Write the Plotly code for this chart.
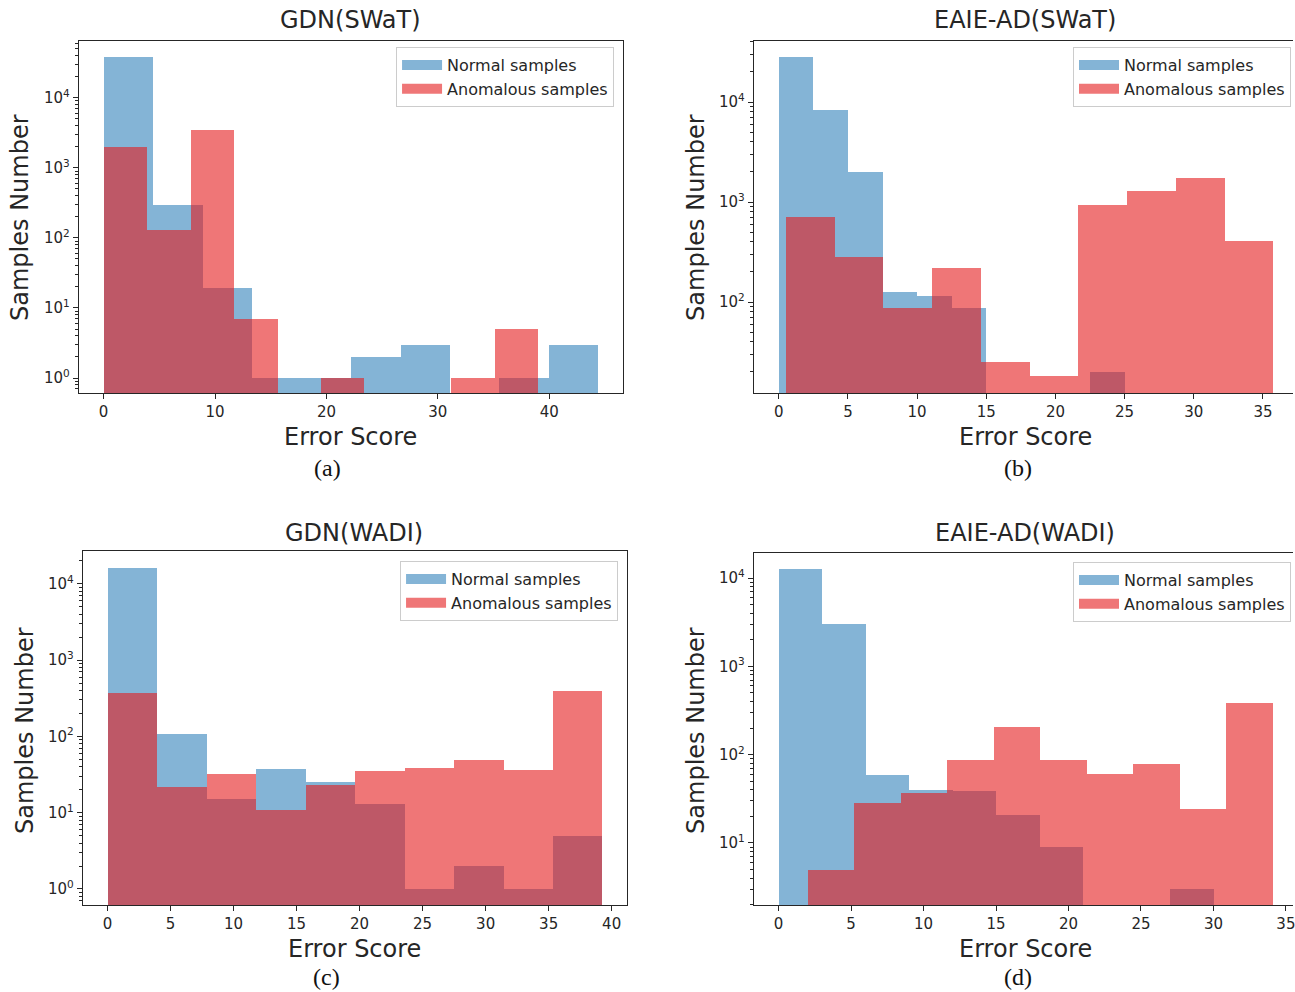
import plotly.graph_objects as go

# ---------------- data ----------------
titles = ["GDN(SWaT)", "EAIE-AD(SWaT)", "GDN(WADI)", "EAIE-AD(WADI)"]
captions = ["(a)", "(b)", "(c)", "(d)"]
series_names = ["Normal samples", "Anomalous samples"]

a_normal_edges = [0, 4.44, 8.88, 13.32, 17.76, 22.2, 26.64, 31.08, 35.52, 39.96, 44.4]
a_normal_counts = [38500, 293, 19, 1, 1, 2, 3, 0, 1, 3]
a_anom_edges = [0, 3.9, 7.8, 11.7, 15.6, 19.5, 23.4, 27.3, 31.2, 35.1, 39.0]
a_anom_counts = [2000, 130, 3500, 7, 0, 1, 0, 0, 1, 5]

b_normal_edges = [0, 2.5, 5, 7.5, 10, 12.5, 15, 17.5, 20, 22.5, 25]
b_normal_counts = [28000, 8400, 2000, 126, 115, 88, 0, 0, 0, 20]
b_anom_edges = [0.5, 4.02, 7.55, 11.07, 14.6, 18.12, 21.64, 25.17, 28.69, 32.22, 35.74]
b_anom_counts = [703, 279, 87, 221, 25, 18, 940, 1277, 1745, 412]

c_normal_edges = [0, 3.93, 7.85, 11.78, 15.7, 19.63, 23.56, 27.48, 31.41, 35.33, 39.26]
c_normal_counts = [16000, 106, 15, 37, 25, 13, 1, 2, 1, 5]
c_anom_edges = [0, 3.93, 7.85, 11.78, 15.7, 19.63, 23.56, 27.48, 31.41, 35.33, 39.26]
c_anom_counts = [370, 22, 32, 11, 23, 35, 39, 49, 36, 396]

d_normal_edges = [0, 3, 6, 9, 12, 15, 18, 21, 24, 27, 30]
d_normal_counts = [12750, 2990, 59, 40, 39, 21, 9, 0, 0, 3]
d_anom_edges = [2.0, 5.21, 8.42, 11.63, 14.84, 18.05, 21.26, 24.47, 27.68, 30.89, 34.1]
d_anom_counts = [5, 28, 37, 86, 205, 87, 61, 79, 24, 389]

x_ticks = [[0, 10, 20, 30, 40],
           [0, 5, 10, 15, 20, 25, 30, 35],
           [0, 5, 10, 15, 20, 25, 30, 35, 40],
           [0, 5, 10, 15, 20, 25, 30, 35]]
y_ticks = [1, 10, 100, 1000, 10000]
y_tick_text = ["10<sup>0</sup>", "10<sup>1</sup>", "10<sup>2</sup>", "10<sup>3</sup>", "10<sup>4</sup>"]

# ---------------- styling / layout ----------------
W, H = 1295, 992
BLUE = "rgba(31,119,180,0.55)"
RED = "rgba(228,26,28,0.6)"
FONT = "DejaVu Sans"
INK = "#262626"

panels = [
    dict(normal=(a_normal_edges, a_normal_counts), anom=(a_anom_edges, a_anom_counts),
         px=(79, 624), py=(41, 393), xr=[-2.22, 46.62], yr=[-0.214, 4.81], cut=False,
         title=(351, 20), xlab=(351, 437), cap=(328, 468), ylab=(20, 217), leg=(615, 47)),
    dict(normal=(b_normal_edges, b_normal_counts), anom=(b_anom_edges, b_anom_counts),
         px=(755, 1295), py=(41, 393), xr=[-1.80, 37.17], yr=[1.09, 4.61], cut=True,
         title=(1027, 20), xlab=(1027, 437), cap=(1020, 468), ylab=(697, 217), leg=(1293, 47)),
    dict(normal=(c_normal_edges, c_normal_counts), anom=(c_anom_edges, c_anom_counts),
         px=(83, 628), py=(551, 905), xr=[-1.96, 41.22], yr=[-0.21, 4.43], cut=False,
         title=(355, 533), xlab=(355, 949), cap=(327, 977), ylab=(25, 730), leg=(619, 561)),
    dict(normal=(d_normal_edges, d_normal_counts), anom=(d_anom_edges, d_anom_counts),
         px=(755, 1295), py=(553, 905), xr=[-1.71, 35.49], yr=[0.298, 4.283], cut=True,
         title=(1027, 533), xlab=(1027, 949), cap=(1020, 977), ylab=(697, 730), leg=(1293, 562)),
]

minor_vals = [m * 10 ** k for k in range(-1, 5) for m in range(2, 10)]


def bars(edges, counts):
    centers = [(edges[i] + edges[i + 1]) / 2 for i in range(len(counts))]
    widths = [edges[i + 1] - edges[i] for i in range(len(counts))]
    vals = [c if c > 0 else None for c in counts]
    return centers, vals, widths


fig = go.Figure()
annotations = []
layout = {}

for i, p in enumerate(panels):
    n = "" if i == 0 else str(i + 1)
    xa, ya = "x" + n, "y" + n
    leg = "legend" + n
    for (edges, counts), color, name in ((p["normal"], BLUE, series_names[0]),
                                         (p["anom"], RED, series_names[1])):
        cx, vy, wd = bars(edges, counts)
        fig.add_trace(go.Bar(x=cx, y=vy, width=wd, marker=dict(color=color, line=dict(width=0)),
                             xaxis=xa, yaxis=ya, showlegend=False, name=name, hoverinfo="x+y"))
    for color, name in ((BLUE, series_names[0]), (RED, series_names[1])):
        fig.add_trace(go.Scatter(x=[None], y=[None], mode="lines", line=dict(color=color, width=11),
                                 xaxis=xa, yaxis=ya, name=name, legend=leg, showlegend=True))

    x0, x1 = p["px"]
    y0, y1 = p["py"]
    layout["xaxis" + n] = dict(
        domain=[x0 / W, x1 / W], range=p["xr"], anchor=ya,
        showline=True, mirror=True, linecolor=INK, linewidth=1.3,
        ticks="outside", ticklen=5, tickwidth=1.2, tickcolor=INK,
        tickmode="array", tickvals=x_ticks[i], showgrid=False, zeroline=False,
        ticklabeloverflow="allow",
        tickfont=dict(family=FONT, size=15, color=INK))
    layout["yaxis" + n] = dict(
        domain=[1 - y1 / H, 1 - y0 / H], type="log", range=p["yr"], anchor=xa,
        showline=True, mirror=not p["cut"], linecolor=INK, linewidth=1.3,
        ticks="outside", ticklen=5, tickwidth=1.2, tickcolor=INK,
        tickmode="array", tickvals=y_ticks, ticktext=y_tick_text,
        showgrid=False, zeroline=False,
        minor=dict(ticks="outside", ticklen=2.5, tickwidth=1, tickcolor=INK,
                   tickmode="array", tickvals=minor_vals, showgrid=False),
        tickfont=dict(family=FONT, size=15, color=INK))
    lx, ly = p["leg"]
    layout[leg] = dict(x=lx / W, y=1 - ly / H, xanchor="right", yanchor="top",
                       bgcolor="white", bordercolor="#cccccc", borderwidth=1,
                       font=dict(family=FONT, size=16, color=INK),
                       tracegroupgap=0, itemwidth=40)

    annotations.append(dict(text=titles[i], x=p["title"][0] / W, y=1 - p["title"][1] / H,
                            xref="paper", yref="paper", showarrow=False,
                            font=dict(family=FONT, size=24, color=INK), xanchor="center", yanchor="middle"))
    annotations.append(dict(text="Error Score", x=p["xlab"][0] / W, y=1 - p["xlab"][1] / H,
                            xref="paper", yref="paper", showarrow=False,
                            font=dict(family=FONT, size=24, color=INK), xanchor="center", yanchor="middle"))
    annotations.append(dict(text="Samples Number", x=p["ylab"][0] / W, y=1 - p["ylab"][1] / H,
                            xref="paper", yref="paper", showarrow=False, textangle=-90,
                            font=dict(family=FONT, size=24, color=INK), xanchor="center", yanchor="middle"))
    annotations.append(dict(text=captions[i], x=p["cap"][0] / W, y=1 - p["cap"][1] / H,
                            xref="paper", yref="paper", showarrow=False,
                            font=dict(family="Liberation Serif", size=24, color="#111111"),
                            xanchor="center", yanchor="middle"))

fig.update_layout(width=W, height=H, margin=dict(l=0, r=0, t=0, b=0),
                  paper_bgcolor="white", plot_bgcolor="white", barmode="overlay",
                  bargap=0, annotations=annotations, **layout)

fig.write_html("out.html", config={"displayModeBar": False},
               post_script="document.body.style.margin='0';document.body.style.padding='0';"
                           "document.body.style.overflow='hidden';")
